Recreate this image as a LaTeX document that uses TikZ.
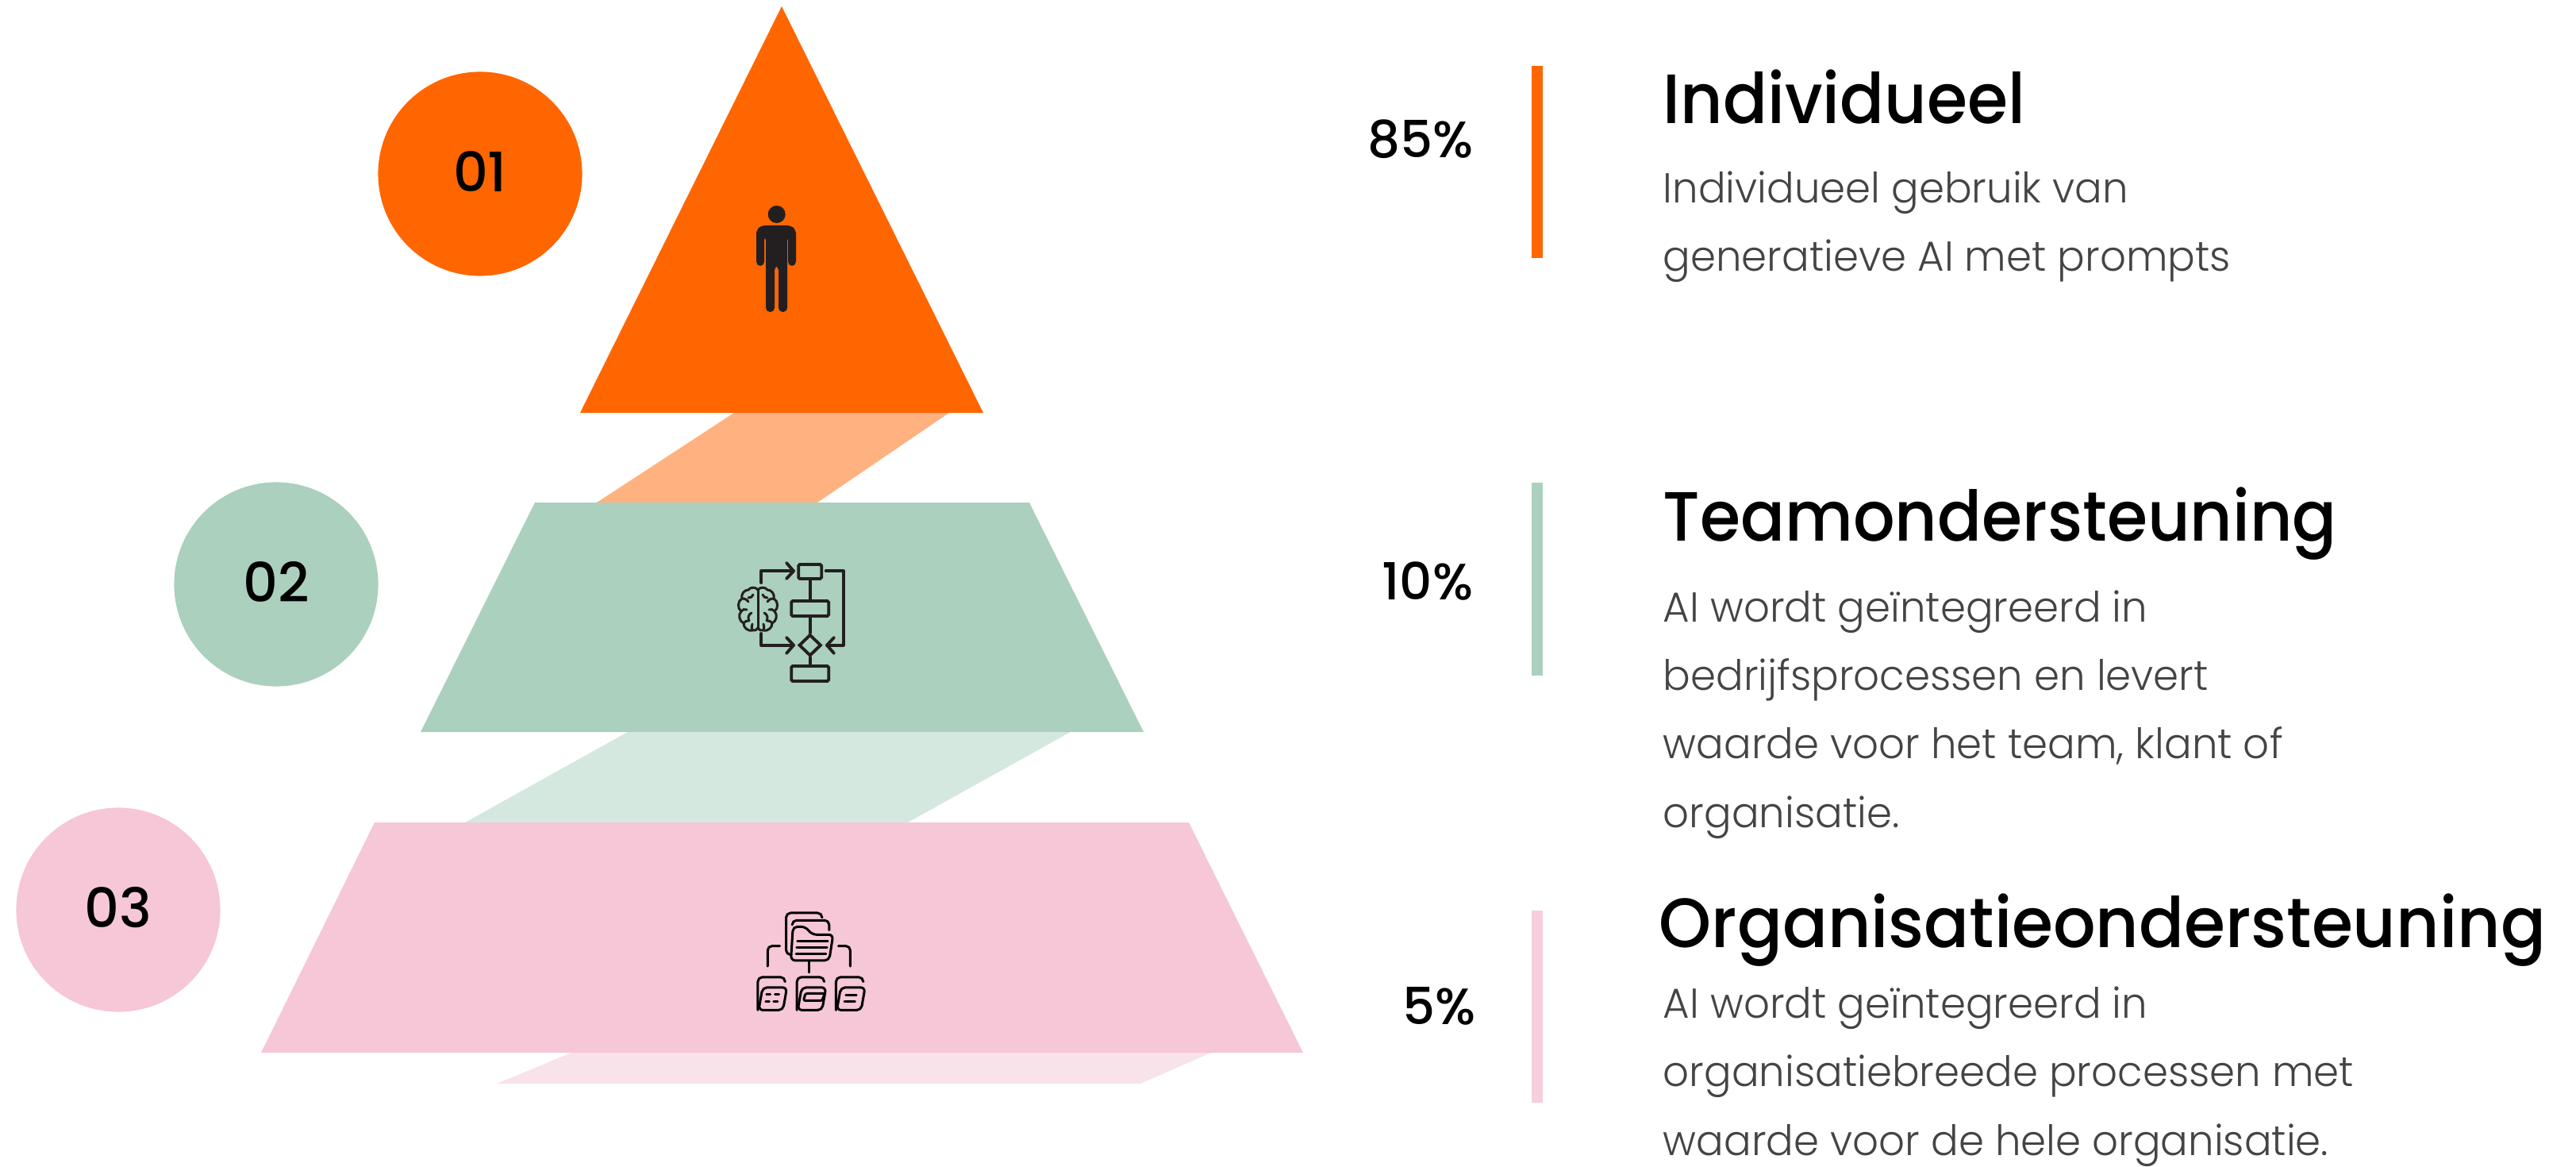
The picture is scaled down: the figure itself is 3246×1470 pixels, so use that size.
\documentclass[tikz,border=0pt]{standalone}
\usepackage{fontspec}
\usetikzlibrary{shapes.geometric}
\setmainfont{Poppins}
\newfontfamily\bodyfont[FakeStretch=0.975]{Poppins Light}
\newfontfamily\headfont[FakeStretch=0.94]{Poppins Medium}
\newfontfamily\headwidefont[FakeStretch=0.957]{Poppins Medium}
\newfontfamily\numfont{Poppins Medium}
\definecolor{orangeMain}{HTML}{FF6600}
\definecolor{orangeSoft}{HTML}{FFB280}
\definecolor{greenMain}{HTML}{ABD0BD}
\definecolor{greenSoft}{HTML}{D5E8DF}
\definecolor{pinkMain}{HTML}{F6C7D6}
\definecolor{pinkSoft}{HTML}{F9E3EA}
\definecolor{iconDark}{HTML}{231F20}
\definecolor{bodyGrey}{HTML}{444444}
\newcommand{\stepdigits}[1]{\raisebox{1.6pt}{#1}}
\tikzset{
  stepnum/.style={circle,minimum size=2.57cm,inner sep=0pt,font=\numfont\fontsize{19.5}{19.5}\selectfont},
  percent/.style={anchor=base east,inner sep=0pt,font=\numfont\fontsize{18.3}{18.3}\selectfont},
  heading/.style={anchor=base west,inner sep=0pt,font=\headfont\fontsize{25}{25}\selectfont},
  bodytext/.style={anchor=base west,inner sep=0pt,align=left,text=bodyGrey,font=\bodyfont\fontsize{15}{24.5}\selectfont},
  flowbox/.style={draw=iconDark,line width=1.1pt,rounded corners=0.5pt,inner sep=0pt},
  flowline/.style={draw=iconDark,line width=1.1pt,line cap=round,line join=round},
  brainline/.style={draw=iconDark,line width=0.85pt,line cap=round,line join=round},
  folderline/.style={draw=black,line width=0.85pt,line cap=round,line join=round,rounded corners=1.6pt},
}
\begin{document}
\begin{tikzpicture}[x=0.01cm,y=-0.01cm]
\useasboundingbox (0,0) rectangle (3246,1470);

% ribbons behind the levels
\fill[orangeSoft] (925,520) -- (1196,520) -- (1030,633) -- (752,633) -- cycle;
\fill[greenSoft] (791,922) -- (1349,922) -- (1144,1036) -- (586,1036) -- cycle;
\fill[pinkSoft] (720,1326) -- (1526,1326) -- (1437,1365) -- (626,1365) -- cycle;

% levels
\fill[orangeMain] (985,8) -- (1239,520) -- (731,520) -- cycle;
\fill[greenMain] (674,633) -- (1297,633) -- (1441,922) -- (530,922) -- cycle;
\fill[pinkMain] (472,1036) -- (1498,1036) -- (1642,1326) -- (329,1326) -- cycle;

% circles
\node[stepnum,fill=orangeMain] (numone) at (605,219) {\stepdigits{01}};
\node[stepnum,fill=greenMain] (numtwo) at (348,736) {\stepdigits{02}};
\node[stepnum,fill=pinkMain] (numthree) at (149,1146) {\stepdigits{03}};

% person
\fill[iconDark] (978.7,270) circle (11);
\fill[iconDark,rounded corners=1.5pt] (953,297) -- (953,290) -- (959,284) -- (997,284) -- (1003,290) -- (1003,297) -- (1003,335) -- (993,335) -- (993,297) -- (992,297) -- (992,393) -- (981,393) -- (981,335) -- (976,335) -- (976,393) -- (965,393) -- (965,297) -- (963,297) -- (963,335) -- (953,335) -- cycle;

% brain and flow
\node[flowbox,minimum width=0.29cm,minimum height=0.18cm] (flowa) at (1020.7,720) {};
\node[flowbox,minimum width=0.47cm,minimum height=0.19cm] (flowb) at (1020.7,766.5) {};
\node[flowbox,diamond,aspect=1,rounded corners=0pt,minimum width=0.28cm,minimum height=0.27cm] (flowc) at (1020.7,812.7) {};
\node[flowbox,minimum width=0.47cm,minimum height=0.19cm] (flowd) at (1020.7,848.5) {};
\coordinate (braintop) at (959.3,734);
\coordinate (brainlow) at (959.3,798);
\coordinate (flowaout) at (1040.7,719.3);
\coordinate (flowain) at (1000,719.3);
\coordinate (flowcin) at (1000,812.7);
\coordinate (flowcout) at (1042,812.7);
\draw[flowline] (flowa) -- (flowb);
\draw[flowline] (flowb) -- (flowc);
\draw[flowline] (flowc) -- (flowd);
\draw[flowline] (braintop) |- (flowain);
\draw[flowline] (brainlow) |- (flowcin);
\draw[flowline] (flowaout) -- (1062.7,719.3) -- (1062.7,812.7) -- (flowcout);
\draw[flowline] (991,709) -- (flowain) -- (991,729);
\draw[flowline] (991,803) -- (flowcin) -- (991,823);
\draw[flowline] (1051,803) -- (flowcout) -- (1051,823);
\begin{scope}[shift={(955,767)}]
\draw[brainline] (0,-24) -- (0,24);
\foreach \side in {1,-1} {
\begin{scope}[xscale=\side]
\draw[brainline] (0,-24) to[bend left=55] (12,-24) to[bend left=55] (20,-13) to[bend left=60] (21,3) to[bend left=55] (18,18) to[bend left=55] (7,27) to[bend left=40] (0,24);
\draw[brainline] (6,-18) to[bend right=40] (12,-14);
\draw[brainline] (20,-13) to[bend right=30] (12,-9);
\draw[brainline] (21,3) to[bend right=40] (14,1);
\draw[brainline] (8,5) to[bend left=50] (11,15);
\draw[brainline] (18,18) to[bend right=30] (12,15);
\draw[brainline] (7,27) to[bend right=20] (7,19);
\end{scope}
}
\end{scope}

% folders
\begin{scope}[shift={(930,1130)},x=0.0033333cm,y=-0.0033333cm]
\draw[folderline] (318,75) -- (318,60) -- (182,60) -- (182,218) -- (195,218);
\draw[folderline] (345,125) -- (345,88) -- (205,88) -- (205,105);
\draw[folderline] (208,112) -- (255,112) -- (280,142) -- (360,142) -- (345,240) -- (200,240) -- cycle;
\draw[folderline] (225,168) -- (340,168);
\draw[folderline] (222,192) -- (337,192);
\draw[folderline] (220,214) -- (333,214);
\draw[folderline] (270,245) -- (270,285);
\draw[folderline] (158,185) -- (112,185) -- (112,262);
\draw[folderline] (380,185) -- (425,185) -- (425,262);
\foreach \shift in {0,148,296} {
\begin{scope}[xshift=\shift*0.0033333cm]
\draw[folderline] (178,318) -- (178,303) -- (75,303) -- (75,428);
\draw[folderline] (93,342) -- (185,342) -- (170,428) -- (78,428) -- cycle;
\end{scope}
}
\draw[folderline] (108,368) -- (122,368);
\draw[folderline] (140,368) -- (155,368);
\draw[folderline] (105,395) -- (118,395);
\draw[folderline] (135,395) -- (150,395);
\draw[folderline,rounded corners=0.6pt] (255,365) -- (328,365) -- (318,392) -- (248,392) -- cycle;
\draw[folderline] (408,370) -- (448,370);
\draw[folderline] (403,395) -- (443,395);
\end{scope}

% percentages
\node[percent] (pctone) at (1857,199) {85\%};
\node[percent] (pcttwo) at (1857,755) {10\%};
\node[percent] (pctthree) at (1860,1290) {5\%};

% bars
\fill[orangeMain] (1930,83) rectangle (1944,325);
\fill[greenMain] (1930,608) rectangle (1944,851);
\fill[pinkMain!85!white] (1930,1147) rectangle (1944,1389);

% texts
\node[heading] (headone) at (2095,156) {Individueel};
\node[bodytext] (textone) at (2095,342) {Individueel gebruik van\\generatieve AI met prompts};
\node[heading] (headtwo) at (2095,681) {Teamondersteuning};
\node[bodytext] (texttwo) at (2095,1042) {AI wordt geïntegreerd in\\bedrijfsprocessen en levert\\waarde voor het team, klant of\\organisatie.};
\node[heading,font=\headwidefont\fontsize{25}{25}\selectfont] (headthree) at (2090,1193) {Organisatieondersteuning};
\node[bodytext] (textthree) at (2095,1455) {AI wordt geïntegreerd in\\organisatiebreede processen met\\waarde voor de hele organisatie.};
\end{tikzpicture}
\end{document}
